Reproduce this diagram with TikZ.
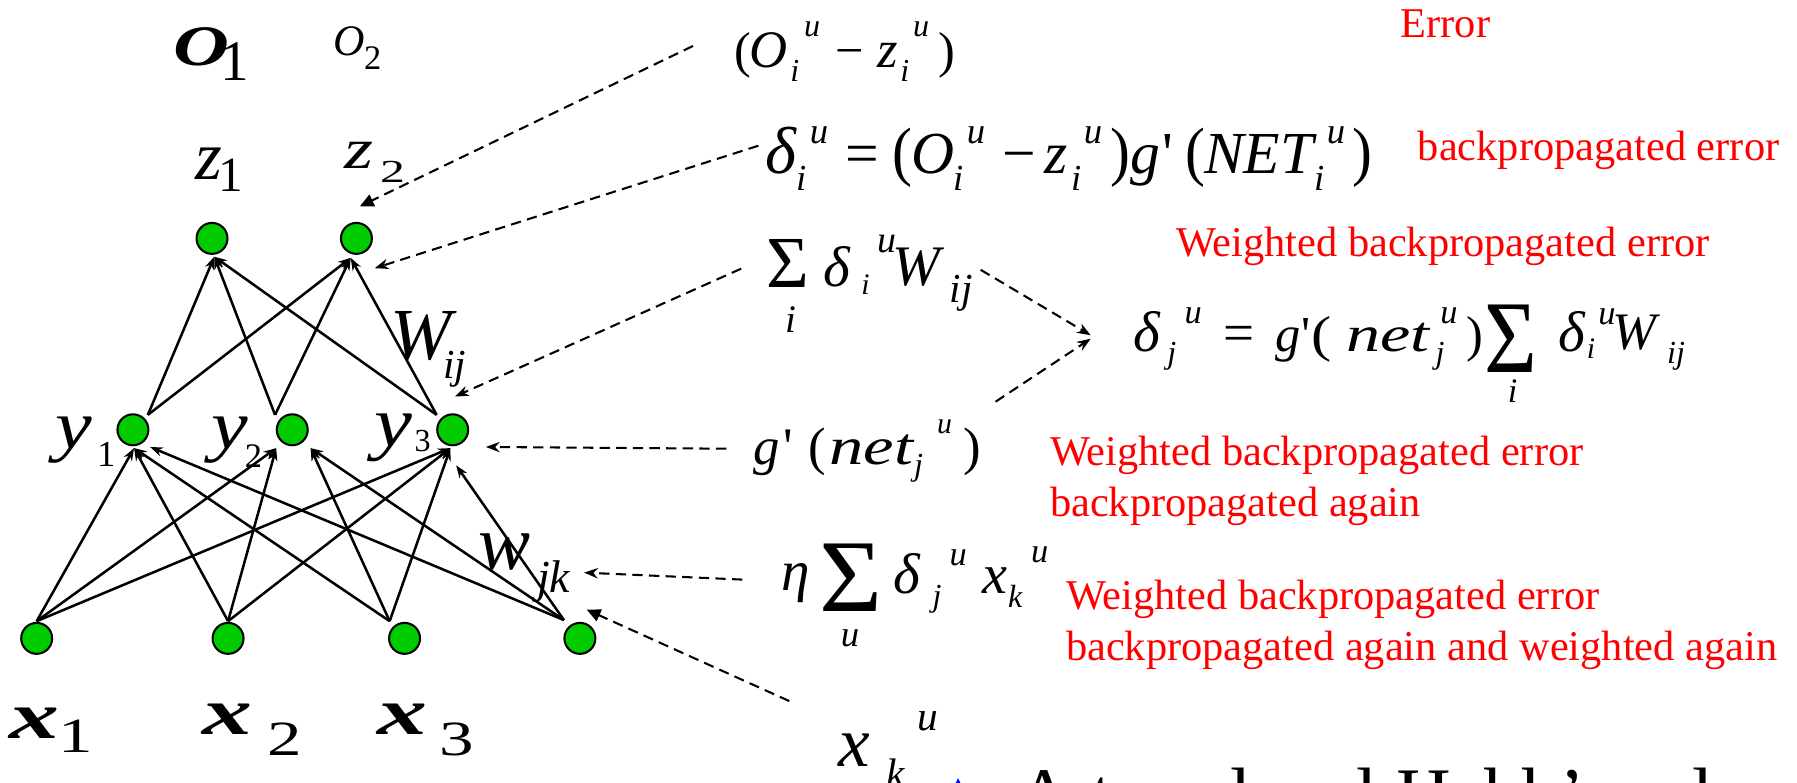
\documentclass[tikz,border=0pt]{standalone}
\usepackage{fontspec}
\usepackage{graphicx}
\usetikzlibrary{arrows.meta,calc}
\newfontfamily\tnr[Ligatures=TeXOff,
  UprightFont={Liberation Serif},
  ItalicFont={Liberation Serif Italic},
  BoldFont={Liberation Serif Bold},
  BoldItalicFont={Liberation Serif Bold Italic}]{Liberation Serif}
\newcommand\GL[4]{\rlap{\hspace*{#1pt}\raisebox{#2pt}{\fontsize{#3}{#3}\selectfont #4}}}
\definecolor{ngreen}{RGB}{0,204,0}
\begin{document}
\begin{tikzpicture}[x=1pt,y=-1pt,
  neuron/.style={circle,draw=black,line width=1.8pt,fill=ngreen,minimum size=27pt,inner sep=0pt},
  frm/.style={anchor=base west,inner sep=0pt,font=\tnr\itshape},
  note/.style={anchor=base west,inner sep=0pt,text=red,font=\tnr\fontsize{37}{45}\selectfont},
  wire/.style={line width=2.2pt,-{Stealth[length=11pt,width=8pt]}},
  dsh/.style={line width=1.8pt,dash pattern=on 9pt off 5.5pt,-{Stealth[length=12pt,width=9pt]}},
  dtri/.style={line width=1.8pt,dash pattern=on 9pt off 5.5pt,-{Triangle[length=12pt,width=11pt]}}
]
\useasboundingbox (0,0) rectangle (1568,683);
\clip (0,0) rectangle (1568,683);
\fill[white] (0,0) rectangle (1568,683);

% neurons
\node[neuron] (z1) at (185,208) {};
\node[neuron] (z2) at (311,208) {};
\node[neuron] (y1) at (116,375) {};
\node[neuron] (y2) at (255,375) {};
\node[neuron] (y3) at (395,375) {};
\node[neuron] (x1) at (32,557) {};
\node[neuron] (x2) at (199,557) {};
\node[neuron] (x3) at (353,557) {};
\node[neuron] (x4) at (506,557) {};

% labels
\node[frm] (lO1) at (151,57) {\GL{0}{0}{50}{\bfseries\scalebox{1.35}[1]{O}}\GL{41}{-13}{50}{\upshape 1}};
\node[frm] (lO2) at (290,48) {\GL{0}{0}{38}{O}\GL{27}{-13}{30}{\upshape 2}};
\node[frm] (lz1) at (170,157) {\GL{0}{0}{60}{z}\GL{20}{-10}{43}{\upshape 1}};
\node[frm] (lz2) at (300,147) {\GL{0}{0}{50}{\scalebox{1.3}[1]{z}}\GL{31}{-12}{28}{\upshape\scalebox{1.55}[1]{2}}};
\node[frm] (ly1) at (48,391) {\GL{0}{0}{60}{\scalebox{1.2}[1]{y}}\GL{36}{-16}{32}{\upshape 1}};
\node[frm] (ly2) at (184,391) {\GL{0}{0}{60}{\scalebox{1.2}[1]{y}}\GL{29}{-17}{30}{\upshape 2}};
\node[frm] (ly3) at (326,390) {\GL{0}{0}{62}{\scalebox{1.2}[1]{y}}\GL{35}{-4}{28}{\upshape 3}};
\node[frm] (lW) at (340,314) {\GL{0}{0}{64}{W}\GL{46}{-16}{36}{ij}};
\node[frm] (lw) at (417,497) {\GL{0}{0}{68}{w}\GL{51}{-20}{40}{jk}};
\node[frm] (lx1) at (8,644) {\GL{0}{0}{58}{\bfseries\scalebox{1.5}[1]{x}}\GL{42}{-13}{43}{\upshape\scalebox{1.4}[1]{1}}};
\node[frm] (lx2) at (176,641) {\GL{0}{0}{58}{\bfseries\scalebox{1.5}[1]{x}}\GL{57}{-18}{43}{\upshape\scalebox{1.4}[1]{2}}};
\node[frm] (lx3) at (329,641) {\GL{0}{0}{58}{\bfseries\scalebox{1.5}[1]{x}}\GL{54}{-18}{43}{\upshape\scalebox{1.4}[1]{3}}};

% formulas
\node[frm] (f1) at (640,59) {\GL{0}{0}{44}{\upshape(}\GL{13}{0}{46}{O}\GL{49}{-12}{28}{i}\GL{61}{27}{28}{u}\GL{88}{0}{44}{\upshape −}\GL{125}{0}{46}{z}\GL{145}{-12}{28}{i}\GL{156}{27}{28}{u}\GL{178}{0}{44}{\upshape)}};
\node[frm] (f2) at (668,151) {\GL{-1}{0}{58}{δ}\GL{26}{-15}{32}{i}\GL{38}{26}{32}{u}\GL{69}{0}{52}{\upshape =}\GL{110}{0}{52}{\upshape\scalebox{1}[1.1]{(}}\GL{127}{0}{52}{O}\GL{163}{-15}{32}{i}\GL{175}{26}{32}{u}\GL{206}{0}{52}{\upshape −}\GL{243}{0}{52}{z}\GL{266}{-15}{32}{i}\GL{277}{26}{32}{u}\GL{300}{0}{52}{\upshape\scalebox{1}[1.1]{)}}\GL{318}{0}{52}{g}\GL{346}{0}{52}{\upshape '}\GL{366}{0}{52}{\upshape\scalebox{1}[1.1]{(}}\GL{382}{0}{52}{NET}\GL{478}{-15}{32}{i}\GL{489}{26}{32}{u}\GL{511}{0}{52}{\upshape\scalebox{1}[1.1]{)}}};
\node[frm] (f3) at (668,249) {\GL{0}{-2}{64}{\upshape Σ}\GL{17}{-41}{34}{i}\GL{50}{-1}{50}{δ}\GL{83}{-8}{26}{i}\GL{97}{29}{33}{u}\GL{110}{0}{50}{W}\GL{160}{-15}{36}{ij}};
\node[frm] (f4) at (988,307) {\GL{0}{0}{50}{δ}\GL{30}{-10}{28}{j}\GL{45}{25}{30}{u}\GL{79}{0}{48}{\upshape =}\GL{124}{0}{44}{g}\GL{147}{0}{44}{\upshape '}\GL{156}{0}{44}{\upshape\scalebox{1.2}[1]{(}}\GL{186}{0}{44}{\scalebox{1.35}[1]{net}}\GL{264}{-10}{28}{j}\GL{268}{25}{30}{u}\GL{291}{0}{44}{\upshape )}\GL{307}{-18}{90}{\upshape\scalebox{0.88}[1]{Σ}}\GL{327}{-44}{30}{i}\GL{371}{0}{50}{δ}\GL{396}{-6}{26}{i}\GL{406}{24}{30}{u}\GL{418}{2}{46}{W}\GL{466}{-10}{28}{ij}};
\node[frm] (f5) at (657,405) {\GL{0}{0}{46}{g}\GL{26}{0}{46}{\upshape '}\GL{48}{0}{46}{\upshape (}\GL{66}{0}{46}{\scalebox{1.3}[1]{net}}\GL{140}{-10}{28}{j}\GL{160}{27}{26}{u}\GL{183}{0}{46}{\upshape )}};
\node[frm] (f6) at (681,515) {\GL{0}{0}{50}{η}\GL{33}{-19}{90}{\upshape\scalebox{1.05}[1]{Σ}}\GL{52}{-49}{32}{u}\GL{98}{-3}{50}{δ}\GL{132}{-14}{28}{j}\GL{147}{22}{30}{u}\GL{176}{-3}{49}{x}\GL{198}{-15}{28}{k}\GL{218}{24}{30}{u}};
\node[frm] (f7) at (731,669) {\GL{0}{0}{62}{x}\GL{42}{-18}{36}{k}\GL{69}{32}{36}{u}};

% red notes
\node[note] (r1) at (1222,33) {Error};
\node[note] (r2) at (1237,140) {backpropagated error};
\node[note] (r3) at (1026,224) {Weighted backpropagated error};
\node[note] (r4) at (916,406) {Weighted backpropagated error};
\node[note] (r5) at (916,451) {backpropagated again};
\node[note] (r6) at (930,532) {Weighted backpropagated error};
\node[note] (r7) at (930,576) {backpropagated again and weighted again};

% clipped bottom line
\fill[blue] (836,679) -- (829,694) -- (843,694) -- cycle;
\node[anchor=base west,inner sep=0pt,font=\tnr\fontsize{66}{70}\selectfont] (hb) at (888,716) {A two-level Hebb’s rule};

% hidden -> output
\foreach \t/\dx/\dy in {z1/2/16, z2/-5/17}{
  \draw[wire] ($(y1)+(13,-13)$) -- ($(\t)+(\dx,\dy)$);
  \draw[wire] ($(y2)+(-15,-13)$) -- ($(\t)+(\dx,\dy)$);
  \draw[wire] ($(y3)+(-14,-13)$) -- ($(\t)+(\dx,\dy)$);
}
% input -> hidden
\foreach \s/\sx/\sy in {x1/0/-15, x2/0/-15, x3/-13/-15}{
  \draw[wire] ($(\s)+(\sx,\sy)$) -- ($(y1)+(1,16)$);
}
\draw[wire] ($(x1)+(0,-15)$) -- ($(y2)+(-14,16)$);
\draw[wire] ($(x2)+(0,-15)$) -- ($(y2)+(-14,16)$);
\draw[wire] ($(x3)+(-13,-15)$) -- ($(y2)+(16,16)$);
\draw[wire] ($(x1)+(0,-15)$) -- ($(y3)+(-2,16)$);
\draw[wire] ($(x2)+(0,-15)$) -- ($(y3)+(-2,16)$);
\draw[wire] ($(x3)+(-13,-15)$) -- ($(y3)+(-2,16)$);
\draw[wire] ($(x4)+(-14,-16)$) -- ($(y1)+(15,15)$);
\draw[wire] ($(x4)+(-14,-16)$) -- ($(y2)+(16,16)$);
\draw[wire] ($(x4)+(-14,-16)$) -- ($(y3)+(3,31)$);

% dashed pointers
\draw[dtri] ($(f1)+(-36,-5)$) -- ($(z2)+(3,-28)$);
\draw[dsh] ($(f2)+(-7,-11)$) -- ($(z2)+(16,26)$);
\draw[dsh] ($(f3)+(-22,-13)$) -- ($(y3)+(2,-29)$);
\draw[dsh] ($(f5)+(-24,-2)$) -- ($(y3)+(29,15)$);
\draw[dsh] ($(f6)+(-34,-14)$) -- ($(lw)+(92,4)$);
\draw[dtri] ($(f7)+(-43,-42)$) -- ($(x4)+(6,-25)$);
\draw[dsh] ($(f3)+(187,-12)$) -- ($(f4)+(-37,-16)$);
\draw[dsh] ($(f5)+(211,-43)$) -- ($(f4)+(-37,-13)$);
\end{tikzpicture}
\end{document}
